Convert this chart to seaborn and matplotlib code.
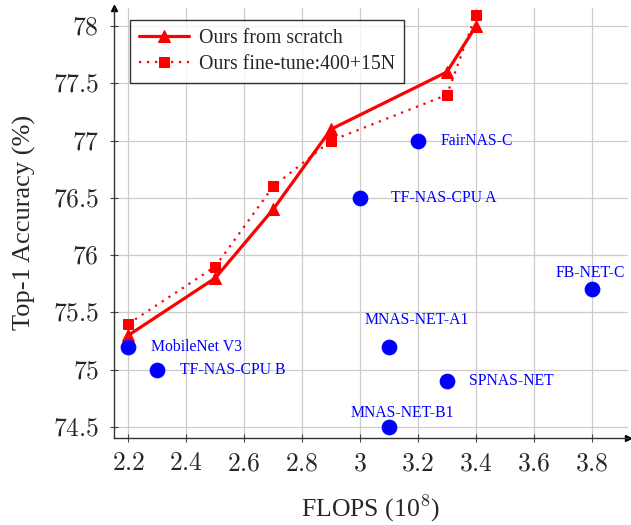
import matplotlib
matplotlib.use("Agg")
import matplotlib.pyplot as plt
import matplotlib.ticker as mticker
import seaborn as sns
import pandas as pd

# curves
flops_ours = [2.2, 2.5, 2.7, 2.9, 3.3, 3.4]
acc_scratch = [75.3, 75.8, 76.4, 77.1, 77.6, 78.0]
acc_finetune = [75.4, 75.9, 76.6, 77.0, 77.4, 78.1]

# other models
other_names = ["MobileNet V3", "TF-NAS-CPU B", "MNAS-NET-A1", "MNAS-NET-B1",
               "SPNAS-NET", "FairNAS-C", "TF-NAS-CPU A", "FB-NET-C"]
other_flops = [2.2, 2.3, 3.1, 3.1, 3.3, 3.2, 3.0, 3.8]
other_acc = [75.2, 75.0, 75.2, 74.5, 74.9, 77.0, 76.5, 75.7]

x_ticks = [2.2, 2.4, 2.6, 2.8, 3.0, 3.2, 3.4, 3.6, 3.8]
y_ticks = [74.5, 75, 75.5, 76, 76.5, 77, 77.5, 78]

sns.set_style("white")
plt.rcParams["font.family"] = ["Liberation Serif", "DejaVu Serif"]
plt.rcParams["mathtext.fontset"] = "cm"

df_s = pd.DataFrame({"x": flops_ours, "y": acc_scratch})
df_f = pd.DataFrame({"x": flops_ours, "y": acc_finetune})
df_o = pd.DataFrame({"x": other_flops, "y": other_acc, "name": other_names})

fig = plt.figure(figsize=(6.31, 5.25), dpi=100)
ax = fig.add_axes([0.181, 0.166, 0.814, 0.819])

sns.lineplot(data=df_s, x="x", y="y", ax=ax, color="red", lw=2.3, marker="^",
             markersize=9, markeredgecolor="red", label="Ours from scratch", zorder=4)
sns.lineplot(data=df_f, x="x", y="y", ax=ax, color="red", lw=1.6, ls=(0, (1, 2.6)),
             marker="s", markersize=7, markeredgecolor="red",
             label="Ours fine-tune:400+15N", zorder=4)
sns.scatterplot(data=df_o, x="x", y="y", ax=ax, color="blue", s=110,
                edgecolor="blue", zorder=5, legend=False)

# label placement (offsets in points)
offsets = {
    "MobileNet V3": (16, 0, "left"),
    "TF-NAS-CPU B": (16, 0, "left"),
    "MNAS-NET-A1": (20, 19, "center"),
    "MNAS-NET-B1": (10, 10, "center"),
    "SPNAS-NET": (16, 0, "left"),
    "FairNAS-C": (16, 0, "left"),
    "TF-NAS-CPU A": (22, 0, "left"),
    "FB-NET-C": (-1, 12, "center"),
}
for n, xv, yv in zip(other_names, other_flops, other_acc):
    dx, dy, ha = offsets[n]
    ax.annotate(n, (xv, yv), xytext=(dx, dy), textcoords="offset points",
                ha=ha, va="center", color="blue", fontsize=11.3)

ax.set_xlim(2.151, 3.925)
ax.set_ylim(74.404, 78.16)
ax.set_xticks(x_ticks)
ax.set_yticks(y_ticks)
ax.xaxis.set_major_formatter(mticker.FuncFormatter(lambda v, p: f"${v:g}$"))
ax.yaxis.set_major_formatter(mticker.FuncFormatter(lambda v, p: f"${v:g}$"))
ax.tick_params(axis="both", labelsize=18.5, length=6, width=0.8, color="#444444",
               direction="inout", left=True, bottom=True, pad=8)
ax.grid(True, color="#cccccc", lw=0.9)

for s in ["top", "right"]:
    ax.spines[s].set_visible(False)
for s in ["left", "bottom"]:
    ax.spines[s].set_color("#333333")
    ax.spines[s].set_linewidth(1.0)
ax.plot(1, 0, ">", color="black", markersize=5, transform=ax.transAxes, clip_on=False)
ax.plot(0, 1, "^", color="black", markersize=5, transform=ax.transAxes, clip_on=False)

ax.set_xlabel("FLOPS (10$^8$)", fontsize=18.5, labelpad=13)
ax.set_ylabel("Top-1 Accuracy (%)", fontsize=19, labelpad=12)

leg = ax.legend(loc="upper left", bbox_to_anchor=(0.031, 0.972), borderaxespad=0,
                fontsize=14.3, frameon=True, fancybox=False, edgecolor="black",
                handlelength=2.5, handletextpad=0.5, borderpad=0.45, labelspacing=0.35)
leg.get_frame().set_linewidth(1.0)

fig.savefig("out.png", dpi=100)
